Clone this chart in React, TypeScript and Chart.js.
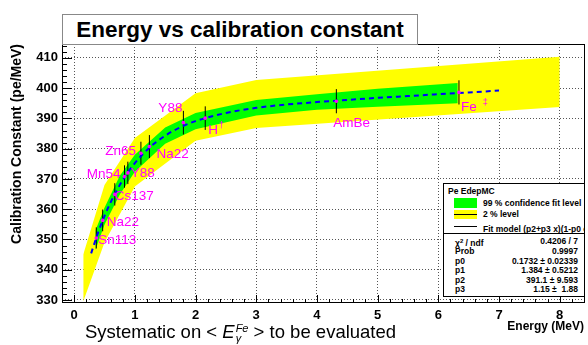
import React, { useEffect, useRef } from "react";
import { Chart, registerables } from "chart.js";

Chart.register(...registerables);

const FONT = '"Liberation Sans", Arial, Helvetica, sans-serif';

// ---- axis ticks ----
const xTickValues = [0, 1, 2, 3, 4, 5, 6, 7, 8];
const yTickValues = [330, 340, 350, 360, 370, 380, 390, 400, 410];

// ---- calibration sources ----
const sourceNames = ["Sn113", "Na22", "Cs137", "Mn54", "Y88", "Zn65", "Na22", "Y88", "H", "AmBe", "Fe"];
const sourceMarks = ["", "", "", "", "", "", "", "", "†", "", "‡"];
const sourceEnergy = [0.365, 0.47, 0.67, 0.83, 0.885, 1.1, 1.24, 1.8, 2.16, 4.32, 6.34];
const sourceConst = [350.5, 356.3, 364.9, 370.8, 372.0, 378.5, 380.7, 388.6, 390.1, 395.7, 398.6];
const sourceError = [3.5, 3.6, 3.7, 3.7, 3.7, 3.8, 3.8, 3.9, 3.9, 4.0, 4.0];

// ---- fit curve (blue dashed) ----
const fitEnergy = [0.28, 0.4, 0.5, 0.6, 0.8, 1.0, 1.25, 1.5, 1.75, 2.0, 2.5, 3, 3.5, 4, 4.5, 5, 5.5, 6, 6.5, 7];
const fitConst = [345.4, 352.6, 357.7, 362.2, 369.6, 375.2, 380.5, 384.3, 387.1, 389.1, 391.8, 393.5, 394.6, 395.4, 396.1, 396.8, 397.4, 398.0, 398.6, 399.2];

// ---- 99 % confidence band (green) ----
const greenEnergy = [0.35, 0.5, 0.75, 1.0, 1.5, 2.0, 3.0, 4.0, 5.0, 6.32];
const greenUpper = [353.0, 360.5, 371.0, 378.0, 387.0, 391.8, 396.1, 398.0, 399.8, 401.7];
const greenLower = [346.5, 354.9, 364.8, 372.4, 381.6, 386.4, 391.0, 392.9, 393.9, 395.0];

// ---- 2 % level band (yellow) ----
const yellowEnergy = [0.15, 0.5, 1.0, 2.0, 3.0, 8.0];
const yellowUpper = [345.0, 368.0, 383.5, 398.3, 402.7, 410.4];
const yellowLower = [329.5, 349.0, 367.5, 382.6, 386.8, 393.8];

// ---- legend / stats texts ----
const legendHeader = "Pe EdepMC";
const legendEntries = ["99 % confidence fit level", "2 % level", "Fit model (p2+p3 x)(1-p0 e"];
const statNames = ["χ2 / ndf", "Prob", "p0", "p1", "p2", "p3"];
const statValues = ["0.4206 / 7", "0.9997", "0.1732 ± 0.02339", "1.384 ± 0.5212", "391.1 ± 9.593", "1.15 ±  1.88"];

// label placement relative to each marker (pixels)
const labelPlacement = [
  { dx: 2, dy: 2, align: "left" },
  { dx: 4, dy: 2, align: "left" },
  { dx: 0, dy: 2, align: "left" },
  { dx: -4, dy: -2, align: "right" },
  { dx: 3, dy: 0, align: "left" },
  { dx: -5, dy: -2, align: "right" },
  { dx: 7, dy: 8, align: "left" },
  { dx: -1, dy: -14, align: "right" },
  { dx: 3, dy: 12, align: "left" },
  { dx: -3, dy: 22, align: "left" },
  { dx: 2, dy: 15, align: "left" },
];

const pts = (xs: number[], ys: number[]) => xs.map((x, i) => ({ x, y: ys[i] }));

const errorBarData: { x: number; y: number | null }[] = [];
sourceEnergy.forEach((x, i) => {
  errorBarData.push({ x, y: sourceConst[i] - sourceError[i] });
  errorBarData.push({ x, y: sourceConst[i] + sourceError[i] });
  errorBarData.push({ x, y: null });
});

const framePlugin = {
  id: "rootFrame",
  afterDatasetsDraw(chart: any) {
    const { ctx, scales } = chart;
    const xs = scales.x;
    const ys = scales.y;
    ctx.save();
    ctx.fillStyle = "#ff00ff";
    ctx.textBaseline = "middle";
    sourceNames.forEach((name, i) => {
      const p = labelPlacement[i];
      const px = xs.getPixelForValue(sourceEnergy[i]) + p.dx;
      const py = ys.getPixelForValue(sourceConst[i]) + p.dy;
      ctx.font = `13.5px ${FONT}`;
      ctx.textAlign = p.align;
      ctx.fillText(name, px, py);
      if (sourceMarks[i]) {
        const w = ctx.measureText(name).width;
        ctx.font = `9px ${FONT}`;
        ctx.textAlign = "left";
        ctx.fillText(sourceMarks[i], px + w + (sourceMarks[i] === "‡" ? 6 : 1), py - 5);
      }
    });
    ctx.restore();
  },
  afterDraw(chart: any) {
    const { ctx, chartArea: a, scales } = chart;
    const xs = scales.x;
    const ys = scales.y;
    ctx.save();
    ctx.strokeStyle = "#000";
    ctx.lineWidth = 1;
    ctx.beginPath();
    for (let k = 0; k <= 43; k++) {
      const v = -0.2 + k * 0.2;
      if (v > xs.max + 1e-6) break;
      const px = Math.round(xs.getPixelForValue(v)) + 0.5;
      const major = Math.abs(v - Math.round(v)) < 1e-6;
      const len = major ? 8 : 4;
      ctx.moveTo(px, a.bottom);
      ctx.lineTo(px, a.bottom - len);
    }
    for (let v = 330; v <= ys.max + 1e-6; v += 2) {
      if (v < ys.min) continue;
      const py = Math.round(ys.getPixelForValue(v)) + 0.5;
      const major = v % 10 === 0;
      const len = major ? 10 : 5;
      ctx.moveTo(a.left, py);
      ctx.lineTo(a.left + len, py);
    }
    ctx.stroke();
    ctx.strokeRect(Math.round(a.left) + 0.5, Math.round(a.top) + 0.5, Math.round(a.right - a.left), Math.round(a.bottom - a.top) - 1);
    ctx.restore();
  },
};

export default function App() {
  const ref = useRef<HTMLCanvasElement>(null);

  useEffect(() => {
    const chart = new Chart(ref.current as HTMLCanvasElement, {
      type: "line",
      data: {
        datasets: [
          {
            data: pts(yellowEnergy, yellowUpper),
            borderColor: "rgba(0,0,0,0)",
            backgroundColor: "#ffff00",
            borderWidth: 0,
            pointRadius: 0,
            fill: "+1",
            order: 6,
          },
          {
            data: pts(yellowEnergy, yellowLower),
            borderColor: "rgba(0,0,0,0)",
            borderWidth: 0,
            pointRadius: 0,
            fill: false,
            order: 6,
          },
          {
            data: pts(greenEnergy, greenUpper),
            borderColor: "rgba(0,0,0,0)",
            backgroundColor: "#00ff00",
            borderWidth: 0,
            pointRadius: 0,
            fill: "+1",
            order: 5,
          },
          {
            data: pts(greenEnergy, greenLower),
            borderColor: "rgba(0,0,0,0)",
            borderWidth: 0,
            pointRadius: 0,
            fill: false,
            order: 5,
          },
          {
            data: errorBarData,
            borderColor: "#000000",
            borderWidth: 1,
            pointRadius: 0,
            spanGaps: false,
            fill: false,
            order: 3,
          },
          {
            data: pts(fitEnergy, fitConst),
            borderColor: "#0000ff",
            borderWidth: 2,
            borderDash: [5, 4],
            pointRadius: 0,
            cubicInterpolationMode: "monotone",
            fill: false,
            order: 2,
          },
          {
            data: pts(sourceEnergy, sourceConst),
            showLine: false,
            pointRadius: 1.8,
            pointBackgroundColor: "#ff00ff",
            pointBorderColor: "#ff00ff",
            pointBorderWidth: 0,
            fill: false,
            order: 1,
          },
        ],
      } as any,
      options: {
        animation: false,
        responsive: false,
        maintainAspectRatio: false,
        devicePixelRatio: 1,
        events: [],
        layout: { padding: { left: 0, right: 3, top: 44, bottom: 0 } },
        plugins: {
          legend: { display: false },
          tooltip: { enabled: false },
          title: { display: false },
        },
        scales: {
          x: {
            type: "linear",
            min: -0.2,
            max: 8.4,
            afterBuildTicks: (s: any) => {
              s.ticks = xTickValues.map((v) => ({ value: v }));
            },
            afterFit: (s: any) => {
              s.height = 42;
            },
            grid: { color: "#555", lineWidth: 1, drawTicks: false },
            border: { display: false, dash: [1, 2] },
            ticks: {
              color: "#000",
              padding: 5,
              maxRotation: 0,
              autoSkip: false,
              font: { family: FONT, size: 13, weight: "bold" },
              callback: (v: any) => String(v),
            },
            title: {
              display: true,
              text: "Energy (MeV)",
              align: "end",
              color: "#000",
              font: { family: FONT, size: 12, weight: "bold" },
              padding: { top: 0, bottom: 11 },
            },
          },
          y: {
            type: "linear",
            min: 329,
            max: 414.6,
            afterBuildTicks: (s: any) => {
              s.ticks = yTickValues.map((v) => ({ value: v }));
            },
            afterFit: (s: any) => {
              s.width = 62;
            },
            grid: { color: "#555", lineWidth: 1, drawTicks: false },
            border: { display: false, dash: [1, 2] },
            ticks: {
              color: "#000",
              padding: 4,
              autoSkip: false,
              font: { family: FONT, size: 13, weight: "bold" },
              callback: (v: any) => String(v),
            },
            title: {
              display: true,
              text: "Calibration Constant (pe/MeV)",
              align: "end",
              color: "#000",
              font: { family: FONT, size: 14, weight: "bold" },
              padding: { top: 9, bottom: 0 },
            },
          },
        },
      } as any,
      plugins: [framePlugin],
    });
    return () => chart.destroy();
  }, []);

  const rowTop = [2, 14, 26, 38];
  const statTop = [2, 12, 22, 31, 41, 50];

  return (
    <div
      style={{
        position: "absolute",
        left: 0,
        top: 0,
        width: 588,
        height: 345,
        background: "#fff",
        overflow: "hidden",
        fontFamily: FONT,
        color: "#000",
      }}
    >
      <canvas
        ref={ref}
        width={588}
        height={345}
        style={{ position: "absolute", left: 0, top: 0, width: 588, height: 345, display: "block" }}
      />
      <div
        style={{
          position: "absolute",
          left: 62,
          top: 14,
          width: 356,
          height: 31,
          boxSizing: "border-box",
          border: "1px solid #888",
          background: "#fff",
          textAlign: "center",
          font: `bold 22.5px ${FONT}`,
          lineHeight: "29px",
          whiteSpace: "nowrap",
        }}
      >
        Energy vs calibration constant
      </div>
      <div
        style={{
          position: "absolute",
          left: 443,
          top: 183,
          width: 142,
          height: 51,
          boxSizing: "border-box",
          border: "1px solid #000",
          background: "#fff",
          overflow: "hidden",
          font: `bold 8.5px ${FONT}`,
          whiteSpace: "nowrap",
        }}
      >
        <div style={{ position: "absolute", left: 4, top: rowTop[0], lineHeight: "10px" }}>{legendHeader}</div>
        <div style={{ position: "absolute", left: 10, top: 14, width: 23, height: 10, background: "#00ff00" }} />
        <div style={{ position: "absolute", left: 10, top: 26, width: 23, height: 9, background: "#ffff00" }}>
          <div style={{ position: "absolute", left: 0, top: 4, width: 23, height: 1, background: "#000" }} />
        </div>
        <div style={{ position: "absolute", left: 10, top: 42, width: 23, height: 1, background: "#000" }} />
        <div style={{ position: "absolute", left: 39, top: rowTop[1], lineHeight: "10px" }}>{legendEntries[0]}</div>
        <div style={{ position: "absolute", left: 39, top: rowTop[2] - 1, lineHeight: "10px" }}>{legendEntries[1]}</div>
        <div style={{ position: "absolute", left: 39, top: rowTop[3], lineHeight: "10px" }}>
          {legendEntries[2]}
          <sup style={{ fontSize: 5.5, verticalAlign: "3px" }}>-p1 x</sup>)
        </div>
      </div>
      <div
        style={{
          position: "absolute",
          left: 443,
          top: 233,
          width: 142,
          height: 64,
          boxSizing: "border-box",
          border: "1px solid #000",
          background: "#fff",
          overflow: "hidden",
          font: `bold 8.5px ${FONT}`,
          whiteSpace: "pre",
        }}
      >
        {statNames.map((n, i) => (
          <React.Fragment key={i}>
            <div style={{ position: "absolute", left: 11, top: statTop[i], lineHeight: "10px" }}>
              {i === 0 ? (
                <span>
                  χ<sup style={{ fontSize: 6, verticalAlign: "3px" }}>2</sup> / ndf
                </span>
              ) : (
                n
              )}
            </div>
            <div style={{ position: "absolute", right: 6, top: statTop[i], lineHeight: "10px" }}>{statValues[i]}</div>
          </React.Fragment>
        ))}
      </div>
      <div
        style={{
          position: "absolute",
          left: 85,
          top: 321,
          font: `18.5px ${FONT}`,
          lineHeight: "22px",
          whiteSpace: "pre",
        }}
      >
        {"Systematic on < "}
        <i>E</i>
        <span
          style={{
            display: "inline-block",
            verticalAlign: "-4px",
            fontSize: 11,
            lineHeight: "10px",
            fontStyle: "italic",
            marginLeft: 1,
          }}
        >
          <span style={{ display: "block" }}>Fe</span>
          <span style={{ display: "block" }}>γ</span>
        </span>
        {" > to be evaluated"}
      </div>
    </div>
  );
}
